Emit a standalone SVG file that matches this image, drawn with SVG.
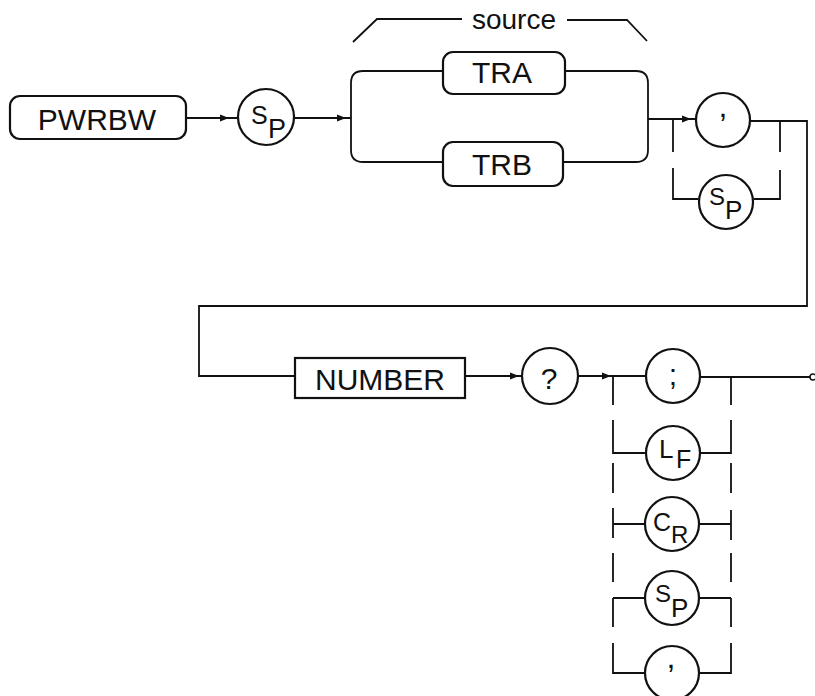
<svg xmlns="http://www.w3.org/2000/svg" width="815" height="696" viewBox="0 0 815 696">
<style>
.box{fill:none;stroke:#111;stroke-width:2.2}
.ln{fill:none;stroke:#111;stroke-width:1.8}
.t{font-family:"Liberation Sans",Arial,sans-serif;fill:#111}
.c{text-anchor:middle}
.ah{fill:#111}
</style>
<rect width="815" height="696" fill="#fff"/>
<g id="connectors">
<path class="ln" d="M186,118 H238"/>
<path class="ln" d="M295,118 H351"/>
<path class="ln" d="M443,71 H363 Q351,71 351,83 V150 Q351,162 363,162 H443"/>
<path class="ln" d="M565,71 H636 Q648,71 648,83 V150 Q648,162 636,162 H563"/>
<path class="ln" d="M648,119 H696"/>
<path class="ln" d="M673,119 V152 M673,168 V199 H698"/>
<path class="ln" d="M750,121 H807 V306 H199 V376 H295"/>
<path class="ln" d="M780,121 V152 M780,170 V199 H754"/>
<path class="ln" d="M465,376 H523"/>
<path class="ln" d="M578,376 H646"/>
<path class="ln" d="M700,377 H810"/>
<circle cx="813" cy="377" r="3" fill="#fff" stroke="#111" stroke-width="1.5"/>
<path class="ln" d="M613,376 V405 M613,420 V453 H646 M613,463 V493 M613,508 V538 M613,524 H645 M613,553 V582 M613,598 V627 M613,598 H645 M613,643 V673 H645"/>
<path class="ln" d="M731,377 V405 M731,420 V453 H700 M731,463 V493 M731,510 V540 M731,524 H699 M731,553 V582 M731,598 V627 M731,598 H699 M731,643 V673 H699"/>
<polygon class="ah" points="229,118 220,114.5 220,121.5"/>
<polygon class="ah" points="346,118 337,114.5 337,121.5"/>
<polygon class="ah" points="691,119 682,115.5 682,122.5"/>
<polygon class="ah" points="519,376 510,372.5 510,379.5"/>
<polygon class="ah" points="611,376 602,372.5 602,379.5"/>
<path class="ln" d="M353,42 L377,19 H462 M567,20 H627 L647,41"/>
</g>
<text class="t c" x="514" y="29" font-size="28">source</text>
<g id="pwrbw">
<rect class="box" x="10" y="96" width="176" height="43" rx="10"/>
<text class="t c" x="97" y="130" font-size="30">PWRBW</text>
</g>
<g id="sp1">
<circle class="box" cx="266" cy="117" r="28"/>
<text class="t" x="251" y="124" font-size="25">S</text>
<text class="t" x="268" y="138" font-size="27">P</text>
</g>
<g id="tra">
<rect class="box" x="443" y="52" width="122" height="42" rx="10"/>
<text class="t c" x="502" y="83" font-size="30">TRA</text>
</g>
<g id="trb">
<rect class="box" x="443" y="142" width="120" height="44" rx="10"/>
<text class="t c" x="502" y="175" font-size="30">TRB</text>
</g>
<g id="comma1">
<circle class="box" cx="723" cy="120" r="27"/>
<text class="t c" x="723" y="117" font-size="32">,</text>
</g>
<g id="sp2">
<circle class="box" cx="726" cy="202" r="27"/>
<text class="t" x="709" y="205" font-size="24">S</text>
<text class="t" x="725" y="219" font-size="26">P</text>
</g>
<g id="number">
<rect class="box" x="295" y="358" width="170" height="40"/>
<text class="t c" x="380" y="390" font-size="30">NUMBER</text>
</g>
<g id="query">
<circle class="box" cx="550" cy="376" r="28"/>
<text class="t c" x="549" y="389" font-size="30">?</text>
</g>
<g id="semicolon">
<circle class="box" cx="673" cy="376" r="27"/>
<text class="t c" x="673" y="385" font-size="30">;</text>
</g>
<g id="lf">
<circle class="box" cx="673" cy="453" r="27"/>
<text class="t" x="659" y="458" font-size="26">L</text>
<text class="t" x="676" y="468" font-size="25">F</text>
</g>
<g id="cr">
<circle class="box" cx="672" cy="524" r="27"/>
<text class="t" x="653" y="531" font-size="25">C</text>
<text class="t" x="671" y="543" font-size="24">R</text>
</g>
<g id="sp3">
<circle class="box" cx="672" cy="598" r="27"/>
<text class="t" x="655" y="602" font-size="24">S</text>
<text class="t" x="671" y="617" font-size="26">P</text>
</g>
<g id="comma2">
<circle class="box" cx="672" cy="673" r="27"/>
<text class="t c" x="671" y="668" font-size="32">,</text>
</g>
</svg>
